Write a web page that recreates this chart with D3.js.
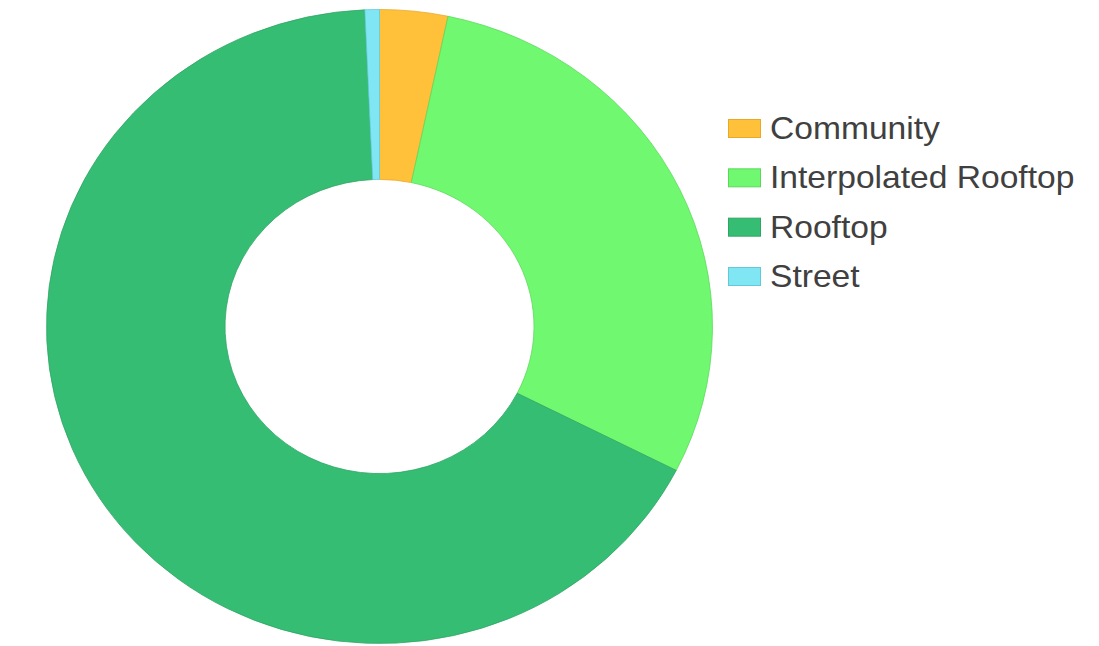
<!DOCTYPE html>
<html>
<head>
<meta charset="utf-8">
<script src="https://cdn.jsdelivr.net/npm/d3@7/dist/d3.min.js"></script>
<style>
  html, body { margin: 0; padding: 0; background: #fff; }
  svg { display: block; }
</style>
</head>
<body>
<svg id="chart" width="1099" height="646"></svg>
<script>
// Share of geocoded addresses by match type
const categories = ["Community", "Interpolated Rooftop", "Rooftop", "Street"];
const values = [3.3, 29.2, 66.8, 0.7];
const fills = ["#ffc03a", "#70f970", "#36bd74", "#80e6f4"];
const strokes = ["#e8a82a", "#5ad85a", "#2ea563", "#62c9d8"];

const svg = d3.select("#chart");

const cx = 379.5, cy = 326.5;
const rOuter = 333, rInner = 154.5;
const squash = 0.952;

const pie = d3.pie().sort(null).value(d => d.value);
const arc = d3.arc().innerRadius(rInner).outerRadius(rOuter);

const data = categories.map((c, i) => ({ name: c, value: values[i], i }));

const g = svg.append("g")
  .attr("transform", `translate(${cx},${cy}) scale(1,${squash})`);

g.selectAll("path.slice")
  .data(pie(data))
  .join("path")
  .attr("class", "slice")
  .attr("d", arc)
  .attr("fill", d => fills[d.data.i])
  .attr("stroke", d => strokes[d.data.i])
  .attr("stroke-width", 0.8)
  .attr("stroke-linejoin", "round");

// Legend
const legend = svg.append("g").attr("transform", "translate(728,0)");
const rowY = d3.scalePoint().domain(categories).range([128.5, 276.5]);

const item = legend.selectAll("g.item")
  .data(data)
  .join("g")
  .attr("class", "item")
  .attr("transform", d => `translate(0,${rowY(d.name)})`);

item.append("rect")
  .attr("x", 0.5).attr("y", -9)
  .attr("width", 32).attr("height", 18)
  .attr("fill", d => fills[d.i])
  .attr("stroke", d => strokes[d.i])
  .attr("stroke-width", 1);

item.append("text")
  .attr("transform", "translate(42,10.5) scale(1.05,1)")
  .attr("font-family", "'Liberation Sans', Arial, sans-serif")
  .attr("font-size", 32)
  .attr("fill", "#404040")
  .text(d => d.name);
</script>
</body>
</html>
